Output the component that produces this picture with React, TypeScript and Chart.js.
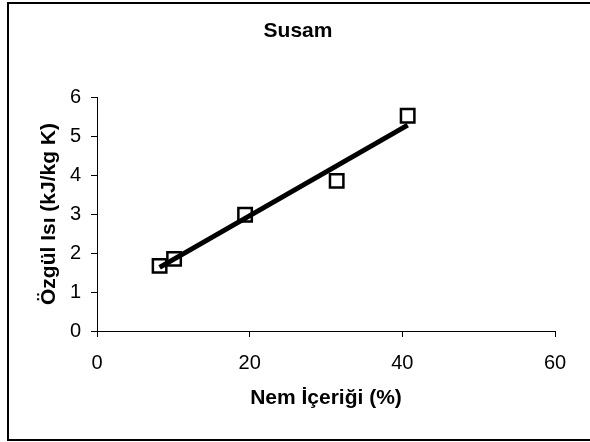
import React, { useEffect, useRef } from "react";
import { Chart, registerables } from "chart.js";

Chart.register(...registerables);

const chartTitle = "Susam";
const xAxisTitle = "Nem İçeriği (%)";
const yAxisTitle = "Özgül Isı (kJ/kg K)";

const moisture = [8.2, 10.1, 19.4, 31.4, 40.7];
const specificHeat = [1.67, 1.85, 2.98, 3.85, 5.52];

const trendX = [8.2, 40.7];
const trendY = [1.63, 5.28];

const xTicks = [0, 20, 40, 60];
const yTicks = [0, 1, 2, 3, 4, 5, 6];

const FONT = "'Liberation Sans', Arial, Helvetica, sans-serif";

const titlePlugin = {
  id: "centerTitle",
  afterDraw(chart: any) {
    const ctx = chart.ctx;
    ctx.save();
    ctx.font = `bold 21px ${FONT}`;
    ctx.fillStyle = "#000";
    ctx.textAlign = "center";
    ctx.textBaseline = "middle";
    ctx.fillText(chartTitle, 298, 31);
    ctx.restore();
  },
};

export default function App() {
  const ref = useRef<HTMLCanvasElement | null>(null);

  useEffect(() => {
    const canvas = ref.current;
    if (!canvas) return;
    const chart = new Chart(canvas, {
      type: "scatter",
      data: {
        datasets: [
          {
            type: "line",
            label: "trend",
            data: trendX.map((x, i) => ({ x, y: trendY[i] })),
            borderColor: "#000",
            borderWidth: 5,
            pointRadius: 0,
            fill: false,
            order: 0,
          },
          {
            label: chartTitle,
            data: moisture.map((x, i) => ({ x, y: specificHeat[i] })),
            pointStyle: "rect",
            pointRadius: 9.5,
            pointHoverRadius: 9.5,
            borderColor: "#000",
            backgroundColor: "rgba(0,0,0,0)",
            borderWidth: 2.5,
            order: 1,
          },
        ],
      },
      plugins: [titlePlugin],
      options: {
        responsive: false,
        animation: false,
        events: [],
        layout: { padding: { left: 0, right: 35, top: 97, bottom: 0 } },
        plugins: {
          legend: { display: false },
          tooltip: { enabled: false },
          title: { display: false },
        },
        scales: {
          x: {
            type: "linear",
            min: 0,
            max: 60,
            afterBuildTicks: (s: any) => {
              s.ticks = xTicks.map((v) => ({ value: v }));
            },
            afterFit: (s: any) => {
              s.height = 111;
            },
            grid: { drawOnChartArea: false, tickLength: 6, color: "#000", tickWidth: 1 },
            border: { color: "#000", width: 1 },
            ticks: {
              color: "#000",
              padding: 14,
              maxRotation: 0,
              font: { family: FONT, size: 20 },
            },
            title: {
              display: true,
              text: xAxisTitle,
              color: "#000",
              font: { family: FONT, size: 21, weight: "bold", lineHeight: 1.2 },
              padding: { top: 31, bottom: 31 },
            },
          },
          y: {
            type: "linear",
            min: 0,
            max: 6,
            afterBuildTicks: (s: any) => {
              s.ticks = yTicks.map((v) => ({ value: v }));
            },
            afterFit: (s: any) => {
              s.width = 97;
            },
            grid: { drawOnChartArea: false, tickLength: 6, color: "#000", tickWidth: 1 },
            border: { color: "#000", width: 1 },
            ticks: {
              color: "#000",
              padding: 10,
              font: { family: FONT, size: 20 },
            },
            title: {
              display: true,
              text: yAxisTitle,
              color: "#000",
              font: { family: FONT, size: 21, weight: "bold", lineHeight: 1.2 },
              padding: { top: 37, bottom: 37 },
            },
          },
        },
      },
    } as any);
    return () => chart.destroy();
  }, []);

  return (
    <>
      <div
        style={{
          position: "fixed",
          left: 7,
          top: 2,
          width: 610,
          height: 439,
          border: "2px solid #000",
          boxSizing: "border-box",
          background: "#fff",
        }}
      />
      <canvas
        ref={ref}
        width={590}
        height={442}
        style={{ position: "fixed", left: 0, top: 0, width: 590, height: 442 }}
      />
    </>
  );
}
